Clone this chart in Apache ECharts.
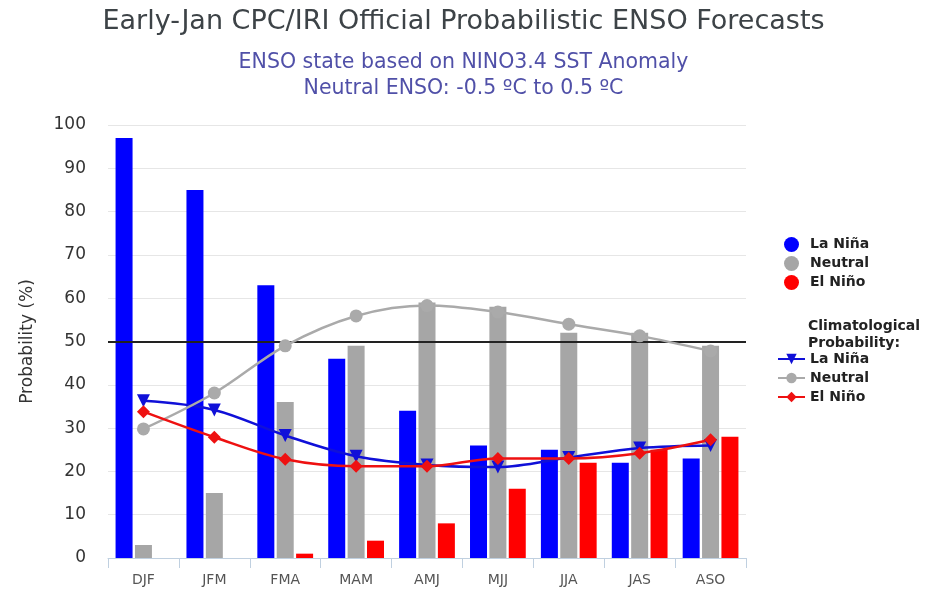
<!DOCTYPE html>
<html><head><meta charset="utf-8">
<script src="https://cdn.jsdelivr.net/npm/echarts@6/dist/echarts.min.js"></script>
<style>html,body{margin:0;padding:0;background:#fff}#c{width:927px;height:594px}</style>
</head><body><div id="c"></div>
<script>
var categories = ['DJF','JFM','FMA','MAM','AMJ','MJJ','JJA','JAS','ASO'];
var laNina  = [97, 85, 63, 46, 34, 26, 25, 22, 23];
var neutral = [3, 15, 36, 49, 59, 58, 52, 52, 49];
var elNino  = [0, 0, 1, 4, 8, 16, 22, 25, 28];
var climLaNina  = [36.3, 34.2, 28.3, 23.5, 21.5, 21, 23.2, 25.4, 26];
var climNeutral = [29.8, 38.1, 49, 55.9, 58.3, 56.8, 54, 51.3, 47.8];
var climElNino  = [33.8, 27.9, 22.8, 21.2, 21.2, 23, 23, 24.2, 27.3];
var yTicks = [0,10,20,30,40,50,60,70,80,90,100];

var chart = echarts.init(document.getElementById('c'));
var FONT = 'DejaVu Sans';
var barW = 17;
function bar(name, data, color, extra){
  var s = {name:name, type:'bar', data:data, barWidth:barW, barGap:'14%',
    itemStyle:{color:color}, z:2};
  return Object.assign(s, extra||{});
}
function line(name, data, color, symbol, size, rot){
  return {name:name, type:'line', data:data, smooth:0.35, symbol:symbol, symbolSize:size,
    symbolRotate:rot||0, lineStyle:{color:color, width:2.5}, itemStyle:{color:color}, z:5};
}
chart.setOption({
  animation:false,
  backgroundColor:'#fff',
  title:[
    {text:'Early-Jan CPC/IRI Official Probabilistic ENSO Forecasts', left:'center', top:3,
     textStyle:{fontFamily:FONT, fontSize:27, fontWeight:'normal', color:'#3d4347'}},
    {text:'ENSO state based on NINO3.4 SST Anomaly\nNeutral ENSO: -0.5 ºC to 0.5 ºC', left:'center', top:45,
     textStyle:{fontFamily:FONT, fontSize:20.5, fontWeight:'normal', color:'#5050a8', lineHeight:26}}
  ],
  grid:{left:108, right:181, top:125, bottom:36},
  legend:[
    {data:['La Niña','Neutral','El Niño'], orient:'vertical', left:779, top:232, itemGap:4,
     icon:'circle', itemWidth:15, itemHeight:15,
     textStyle:{fontFamily:FONT, fontSize:14, fontWeight:'bold', color:'#222', padding:[0,0,0,6]}},
    {data:['La Niña ','Neutral ','El Niño '], orient:'vertical', left:772, top:347, itemGap:5,
     itemWidth:27, itemHeight:13,
     formatter:function(n){return n.trim();},
     textStyle:{fontFamily:FONT, fontSize:14, fontWeight:'bold', color:'#222', padding:[0,0,0,0]}}
  ],
  graphic:[{type:'text', left:808, top:318,
    style:{text:'Climatological\nProbability:', font:'bold 14px "DejaVu Sans"', fill:'#222', lineHeight:17}}],
  xAxis:{type:'category', data:categories, boundaryGap:true,
    axisLine:{lineStyle:{color:'#c0d0e0', width:1}},
    axisTick:{show:true, length:10, lineStyle:{color:'#c0d0e0'}},
    axisLabel:{fontFamily:FONT, fontSize:14, color:'#555', margin:15}},
  yAxis:{type:'value', min:0, max:100, interval:10,
    name:'Probability (%)', nameLocation:'middle', nameGap:72,
    nameTextStyle:{fontFamily:FONT, fontSize:17, color:'#333'},
    axisLine:{show:false}, axisTick:{show:false},
    axisLabel:{fontFamily:FONT, fontSize:17, color:'#333', margin:22,
      formatter:function(v){return yTicks.indexOf(v)>=0?String(v):'';}},
    splitLine:{lineStyle:{color:'#e6e6e6', width:1}}},
  series:[
    bar('La Niña', laNina, '#0000ff', {markLine:{silent:true, symbol:['none','none'], label:{show:false},
      lineStyle:{color:'#222', width:2, type:'solid'}, data:[{yAxis:50}]}}),
    bar('Neutral', neutral, '#a6a6a6'),
    bar('El Niño', elNino, '#ff0000'),
    line('La Niña ', climLaNina, '#1010d8', 'triangle', 13, 180),
    line('Neutral ', climNeutral, '#aaaaaa', 'circle', 13),
    line('El Niño ', climElNino, '#ee1111', 'diamond', 13)
  ]
});
</script></body></html>
